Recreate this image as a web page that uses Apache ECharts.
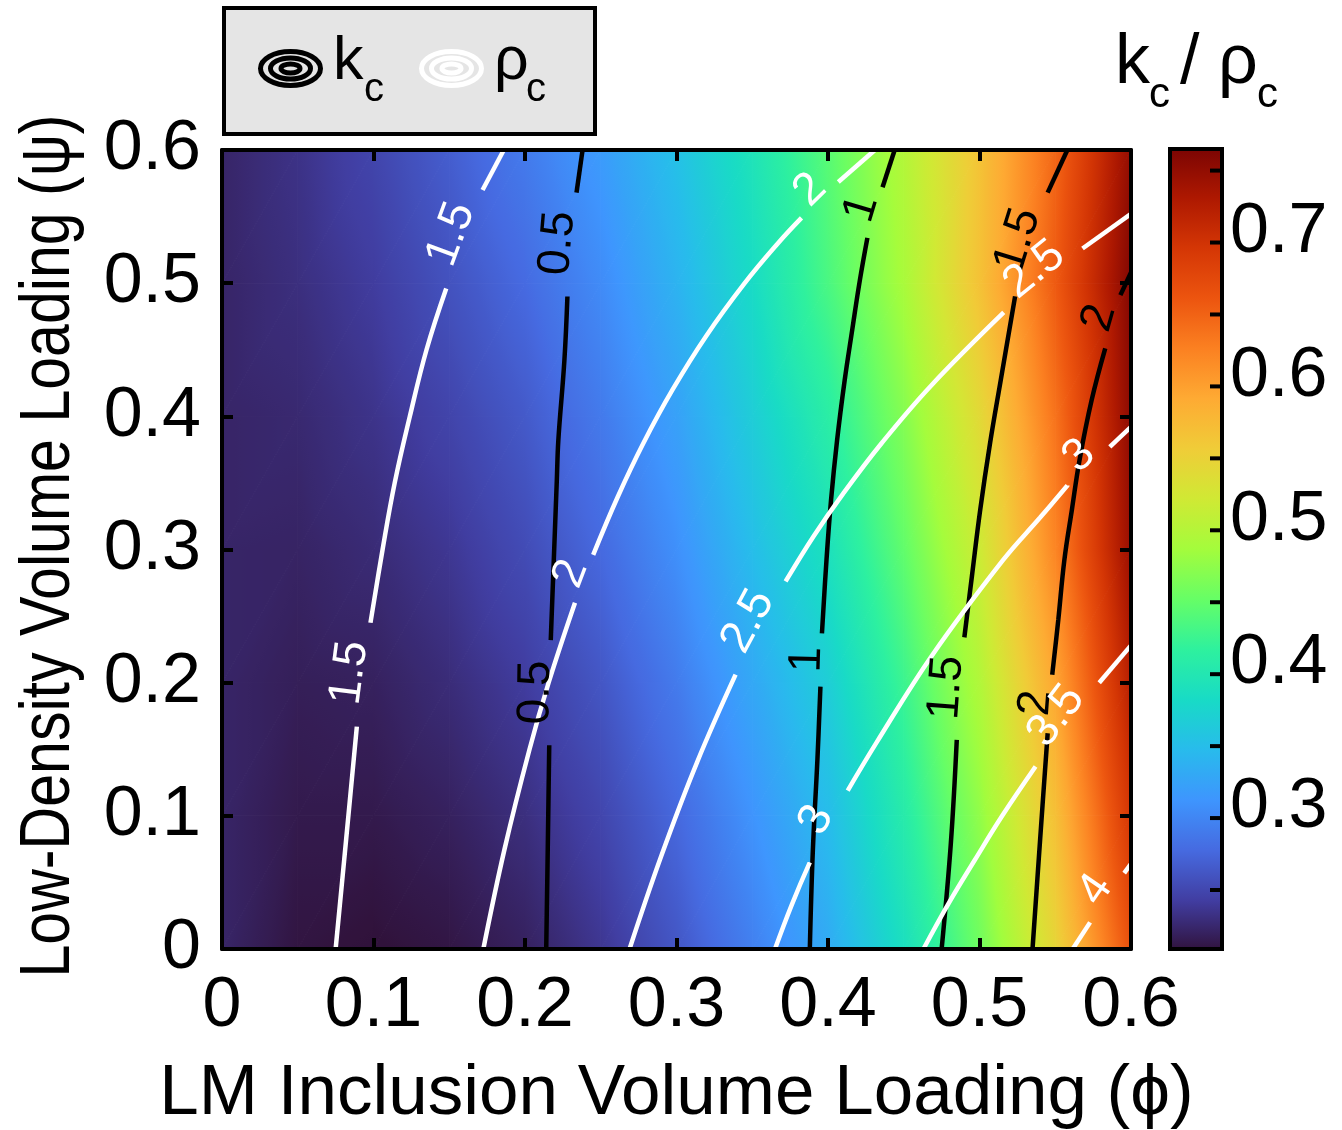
<!DOCTYPE html>
<html>
<head>
<meta charset="utf-8">
<script src="https://cdn.jsdelivr.net/npm/echarts@6/dist/echarts.min.js"></script>
<style>
  html, body { margin: 0; padding: 0; background: #fff; }
  #main { width: 1342px; height: 1130px; }
</style>
</head>
<body>
<div id="main"></div>
<script>
// grid nodes of the kc/rho_c field (phi across, psi up)
var phiNodes = [0, 0.05, 0.1, 0.15, 0.2, 0.25, 0.3, 0.35, 0.4, 0.45, 0.5, 0.55, 0.6];
var psiNodes = [0, 0.1, 0.2, 0.3, 0.4, 0.5, 0.6];

// kc / rho_c read row by row (one row per psi node)
var ratioPsi0 = [0.224, 0.211, 0.208, 0.212, 0.221, 0.238, 0.263, 0.296, 0.332, 0.388, 0.457, 0.546, 0.665];
var ratioPsi1 = [0.224, 0.215, 0.215, 0.221, 0.232, 0.250, 0.277, 0.312, 0.349, 0.407, 0.476, 0.569, 0.695];
var ratioPsi2 = [0.224, 0.219, 0.221, 0.230, 0.243, 0.263, 0.292, 0.330, 0.368, 0.426, 0.497, 0.594, 0.722];
var ratioPsi3 = [0.224, 0.223, 0.229, 0.239, 0.255, 0.278, 0.309, 0.350, 0.391, 0.449, 0.519, 0.621, 0.745];
var ratioPsi4 = [0.224, 0.227, 0.236, 0.249, 0.266, 0.291, 0.324, 0.367, 0.411, 0.469, 0.541, 0.636, 0.753];
var ratioPsi5 = [0.224, 0.232, 0.243, 0.260, 0.279, 0.305, 0.340, 0.383, 0.435, 0.491, 0.567, 0.656, 0.760];
var ratioPsi6 = [0.224, 0.235, 0.250, 0.269, 0.292, 0.319, 0.354, 0.395, 0.444, 0.499, 0.566, 0.646, 0.749];
var ratioRows = [ratioPsi0, ratioPsi1, ratioPsi2, ratioPsi3, ratioPsi4, ratioPsi5, ratioPsi6];

// colour bar
var colorMin = 0.209;
var colorMax = 0.765;
var colorbarLabels = [0.3, 0.4, 0.5, 0.6, 0.7];
var colorbarTicks = [0.25, 0.3, 0.35, 0.4, 0.45, 0.5, 0.55, 0.6, 0.65, 0.7, 0.75];

// kc contours (black), each split where the inline label sits
var kc05 = [
  [[0.214, 0], [0.215, 0.074], [0.216, 0.153]],
  [[0.217, 0.232], [0.219, 0.292], [0.221, 0.352], [0.222, 0.382], [0.226, 0.442], [0.228, 0.490]],
  [[0.234, 0.568], [0.238, 0.6]]
];
var kc10 = [
  [[0.388, 0], [0.390, 0.074], [0.393, 0.142], [0.395, 0.197]],
  [[0.396, 0.237], [0.399, 0.292], [0.402, 0.337], [0.406, 0.382], [0.411, 0.427], [0.416, 0.465], [0.421, 0.502], [0.426, 0.534]],
  [[0.436, 0.572], [0.444, 0.6]]
];
var kc15 = [
  [[0.475, 0], [0.481, 0.078], [0.485, 0.157]],
  [[0.490, 0.234], [0.495, 0.280], [0.5005, 0.330], [0.507, 0.380], [0.514, 0.427], [0.5235, 0.490]],
  [[0.545, 0.568], [0.558, 0.6]]
];
var kc20 = [
  [[0.535, 0], [0.540, 0.082], [0.545, 0.162]],
  [[0.548, 0.206], [0.552, 0.247], [0.556, 0.292], [0.561, 0.330], [0.566, 0.367], [0.574, 0.412], [0.583, 0.451]],
  [[0.593, 0.491], [0.6, 0.508]]
];

// rho_c contours (white)
var rho15 = [
  [[0.075, 0], [0.082, 0.083], [0.089, 0.167]],
  [[0.098, 0.245], [0.106, 0.300], [0.114, 0.350], [0.124, 0.400], [0.135, 0.450], [0.148, 0.496]],
  [[0.172, 0.570], [0.186, 0.6]]
];
var rho20 = [
  [[0.1725, 0], [0.1865, 0.075], [0.203, 0.150], [0.2156, 0.200], [0.233, 0.260]],
  [[0.245, 0.296], [0.2614, 0.340], [0.2782, 0.380], [0.2974, 0.420], [0.3194, 0.460], [0.345, 0.500], [0.367, 0.530], [0.3825, 0.549]],
  [[0.4068, 0.576], [0.431, 0.6]]
];
var rho25 = [
  [[0.269, 0], [0.290, 0.070], [0.3135, 0.140], [0.339, 0.206]],
  [[0.372, 0.276], [0.3905, 0.310], [0.410, 0.342], [0.4355, 0.380], [0.468, 0.423], [0.516, 0.478]],
  [[0.568, 0.526], [0.6, 0.552]]
];
var rho30 = [
  [[0.365, 0], [0.376, 0.033], [0.388, 0.065]],
  [[0.413, 0.119], [0.432, 0.155], [0.469, 0.221], [0.5155, 0.292], [0.540, 0.324], [0.558, 0.348]],
  [[0.586, 0.377], [0.6, 0.392]]
];
var rho35 = [
  [[0.463, 0], [0.480, 0.035], [0.497, 0.067], [0.515, 0.100], [0.537, 0.137]],
  [[0.579, 0.200], [0.6, 0.228]]
];
var rho40 = [
  [[0.5615, 0], [0.573, 0.020]],
  [[0.5955, 0.057], [0.6, 0.064]]
];

var FONT = '"Liberation Sans", Arial, sans-serif';

// turbo colour map: [t, r, g, b]
var turboStops = [
  [0.0000, 0.190, 0.072, 0.232],
  [0.0625, 0.253, 0.240, 0.630],
  [0.1250, 0.275, 0.415, 0.880],
  [0.1875, 0.245, 0.585, 0.995],
  [0.2500, 0.155, 0.735, 0.925],
  [0.3125, 0.095, 0.860, 0.775],
  [0.3750, 0.180, 0.945, 0.620],
  [0.4375, 0.400, 0.995, 0.400],
  [0.5000, 0.644, 0.990, 0.234],
  [0.5625, 0.815, 0.915, 0.205],
  [0.6250, 0.940, 0.800, 0.218],
  [0.6875, 0.995, 0.665, 0.200],
  [0.7500, 0.985, 0.500, 0.130],
  [0.8125, 0.925, 0.330, 0.058],
  [0.8750, 0.830, 0.210, 0.018],
  [0.9375, 0.680, 0.095, 0.005],
  [1.0000, 0.480, 0.016, 0.011]
];

function stopColor(s) {
  return 'rgb(' + Math.round(s[1] * 255) + ',' + Math.round(s[2] * 255) + ',' + Math.round(s[3] * 255) + ')';
}

function ratioColor(v) {
  var t = (v - colorMin) / (colorMax - colorMin);
  t = Math.max(0, Math.min(1, t));
  for (var k = 1; k < turboStops.length; k++) {
    if (t <= turboStops[k][0]) {
      var a = turboStops[k - 1], b = turboStops[k];
      var f = (t - a[0]) / (b[0] - a[0]);
      return stopColor([0, a[1] + (b[1] - a[1]) * f, a[2] + (b[2] - a[2]) * f, a[3] + (b[3] - a[3]) * f]);
    }
  }
  return stopColor(turboStops[turboStops.length - 1]);
}

// linear shading over one triangle of the field
function planeFill(pts, vals) {
  var ax = pts[1][0] - pts[0][0], ay = pts[1][1] - pts[0][1];
  var bx = pts[2][0] - pts[0][0], by = pts[2][1] - pts[0][1];
  var da = vals[1] - vals[0], db = vals[2] - vals[0];
  var det = ax * by - ay * bx;
  var gx = (da * by - ay * db) / det;
  var gy = (ax * db - da * bx) / det;
  var gl = Math.sqrt(gx * gx + gy * gy);
  if (!isFinite(gl) || gl < 1e-9) return ratioColor(vals[0]);
  var ux = gx / gl, uy = gy / gl;
  var tmin = Infinity, tmax = -Infinity;
  pts.forEach(function (p) {
    var t = (p[0] - pts[0][0]) * ux + (p[1] - pts[0][1]) * uy;
    if (t < tmin) tmin = t;
    if (t > tmax) tmax = t;
  });
  var vs = vals[0] + gl * tmin, ve = vals[0] + gl * tmax;
  var stops = [];
  for (var k = 0; k <= 12; k++) {
    stops.push({ offset: k / 12, color: ratioColor(vs + (ve - vs) * k / 12) });
  }
  return new echarts.graphic.LinearGradient(
    pts[0][0] + ux * tmin, pts[0][1] + uy * tmin,
    pts[0][0] + ux * tmax, pts[0][1] + uy * tmax,
    stops, true
  );
}

function triangle(pts, vals) {
  var fill = planeFill(pts, vals);
  return {
    type: 'polygon',
    shape: { points: pts },
    style: { fill: fill, stroke: fill, lineWidth: 1 }
  };
}

function renderCell(params, api) {
  var x0 = api.value(0), x1 = api.value(1), y0 = api.value(2), y1 = api.value(3);
  var p00 = api.coord([x0, y0]), p10 = api.coord([x1, y0]);
  var p01 = api.coord([x0, y1]), p11 = api.coord([x1, y1]);
  var v00 = api.value(4), v10 = api.value(5), v01 = api.value(6), v11 = api.value(7);
  return {
    type: 'group',
    children: [
      triangle([p00, p10, p11], [v00, v10, v11]),
      triangle([p00, p11, p01], [v00, v11, v01])
    ]
  };
}

// colour bar: gradient bar, frame, inward ticks and labels
function renderColorbar(params, api) {
  var lo = api.coord([api.value(0), api.value(2)]);
  var hi = api.coord([api.value(1), api.value(3)]);
  var stops = turboStops.map(function (s) {
    return { offset: s[0], color: stopColor(s) };
  });
  var children = [{
    type: 'rect',
    shape: { x: lo[0], y: hi[1], width: hi[0] - lo[0], height: lo[1] - hi[1] },
    style: {
      fill: new echarts.graphic.LinearGradient(0, 1, 0, 0, stops),
      stroke: '#000',
      lineWidth: 4
    }
  }];
  colorbarTicks.forEach(function (v) {
    var y = api.coord([1, v])[1];
    children.push({
      type: 'line',
      shape: { x1: hi[0] - 12, y1: y, x2: hi[0], y2: y },
      style: { stroke: '#000', lineWidth: 4 }
    });
  });
  colorbarLabels.forEach(function (v) {
    var y = api.coord([1, v])[1];
    children.push({
      type: 'text',
      x: hi[0] + 8,
      y: y - 10,
      style: { text: String(v), fontSize: 70, fontFamily: FONT, fill: '#000', align: 'left', verticalAlign: 'middle' }
    });
  });
  return { type: 'group', children: children };
}

// field cells
var heatCells = [];
for (var j = 0; j < psiNodes.length - 1; j++) {
  for (var i = 0; i < phiNodes.length - 1; i++) {
    heatCells.push([
      phiNodes[i], phiNodes[i + 1], psiNodes[j], psiNodes[j + 1],
      ratioRows[j][i], ratioRows[j][i + 1], ratioRows[j + 1][i], ratioRows[j + 1][i + 1]
    ]);
  }
}

var contours = [
  { level: '0.5', color: '#000', segs: kc05 },
  { level: '1', color: '#000', segs: kc10 },
  { level: '1.5', color: '#000', segs: kc15 },
  { level: '2', color: '#000', segs: kc20 },
  { level: '1.5', color: '#fff', segs: rho15 },
  { level: '2', color: '#fff', segs: rho20 },
  { level: '2.5', color: '#fff', segs: rho25 },
  { level: '3', color: '#fff', segs: rho30 },
  { level: '3.5', color: '#fff', segs: rho35 },
  { level: '4', color: '#fff', segs: rho40 }
];

var lineSeries = [];
var labelItems = [];
contours.forEach(function (c) {
  c.segs.forEach(function (seg, k) {
    lineSeries.push({
      type: 'line',
      xAxisIndex: 0,
      yAxisIndex: 0,
      data: seg,
      smooth: 0.4,
      showSymbol: false,
      silent: true,
      z: 3,
      lineStyle: { color: c.color, width: 4.5 }
    });
    if (k < c.segs.length - 1) {
      var a = seg[seg.length - 1], b = c.segs[k + 1][0];
      labelItems.push({ value: [a[0], a[1], b[0], b[1]], text: c.level, color: c.color });
    }
  });
});

var LABEL_SHIFT = 14;
function renderLabel(params, api) {
  var a = api.coord([api.value(0), api.value(1)]);
  var b = api.coord([api.value(2), api.value(3)]);
  var ang = Math.atan2(a[1] - b[1], b[0] - a[0]);
  var item = labelItems[params.dataIndex];
  return {
    type: 'text',
    x: (a[0] + b[0]) / 2 - LABEL_SHIFT * Math.sin(ang),
    y: (a[1] + b[1]) / 2 - LABEL_SHIFT * Math.cos(ang),
    rotation: ang,
    style: {
      text: item.text,
      fill: item.color,
      fontSize: 46,
      fontFamily: FONT,
      align: 'center',
      verticalAlign: 'middle'
    }
  };
}

var frameLine = { show: true, onZero: false, lineStyle: { color: '#000', width: 4 } };
var frameTick = { show: true, inside: true, length: 11, lineStyle: { color: '#000', width: 4 } };

var chartDom = document.getElementById('main');
var myChart = echarts.init(chartDom, null, { renderer: 'canvas' });

var option = {
  animation: false,
  backgroundColor: '#fff',
  textStyle: { fontFamily: FONT },
  grid: [
    { left: 222, top: 150, width: 909, height: 799, containLabel: false, outerBoundsMode: 'none' },
    { left: 1170, top: 149, width: 52, height: 800, containLabel: false, outerBoundsMode: 'none' }
  ],
  xAxis: [
    {
      gridIndex: 0, type: 'value', min: 0, max: 0.6, interval: 0.1, position: 'bottom',
      axisLine: frameLine, axisTick: frameTick,
      axisLabel: { color: '#000', fontSize: 70, fontFamily: FONT, margin: 23 },
      splitLine: { show: false },
      name: 'LM Inclusion Volume Loading (\u03d5)',
      nameLocation: 'middle',
      nameGap: 110,
      nameTextStyle: { color: '#000', fontSize: 71, fontFamily: FONT },
      z: 10
    },
    {
      gridIndex: 0, type: 'value', min: 0, max: 0.6, interval: 0.1, position: 'top',
      axisLine: frameLine, axisTick: frameTick, axisLabel: { show: false },
      splitLine: { show: false }, z: 10
    },
    { gridIndex: 1, type: 'value', min: 0, max: 1, show: false }
  ],
  yAxis: [
    {
      gridIndex: 0, type: 'value', min: 0, max: 0.6, interval: 0.1, position: 'left',
      axisLine: frameLine, axisTick: frameTick,
      axisLabel: { color: '#000', fontSize: 70, fontFamily: FONT, margin: 21 },
      splitLine: { show: false }, z: 10
    },
    {
      gridIndex: 0, type: 'value', min: 0, max: 0.6, interval: 0.1, position: 'right',
      axisLine: frameLine, axisTick: frameTick, axisLabel: { show: false },
      splitLine: { show: false }, z: 10
    },
    { gridIndex: 1, type: 'value', min: colorMin, max: colorMax, show: false }
  ],
  graphic: [
    // legend box
    { type: 'rect', shape: { x: 224, y: 8, width: 371, height: 126 }, style: { fill: '#e5e5e5', stroke: '#000', lineWidth: 4 } },
    { type: 'ellipse', shape: { cx: 290.5, cy: 68.5, rx: 30, ry: 17 }, style: { fill: null, stroke: '#000', lineWidth: 5 } },
    { type: 'ellipse', shape: { cx: 290.5, cy: 68.5, rx: 20, ry: 10.5 }, style: { fill: null, stroke: '#000', lineWidth: 5 } },
    { type: 'ellipse', shape: { cx: 290.5, cy: 68.5, rx: 9.5, ry: 4.5 }, style: { fill: null, stroke: '#000', lineWidth: 5 } },
    { type: 'text', x: 333, y: 62, style: { text: 'k', fontSize: 61, fontFamily: FONT, fill: '#000', align: 'left', verticalAlign: 'middle' } },
    { type: 'text', x: 364, y: 90, style: { text: 'c', fontSize: 40, fontFamily: FONT, fill: '#000', align: 'left', verticalAlign: 'middle' } },
    { type: 'ellipse', shape: { cx: 451.5, cy: 68.5, rx: 30, ry: 17 }, style: { fill: null, stroke: '#fff', lineWidth: 5 } },
    { type: 'ellipse', shape: { cx: 451.5, cy: 68.5, rx: 20, ry: 10.5 }, style: { fill: null, stroke: '#fff', lineWidth: 5 } },
    { type: 'ellipse', shape: { cx: 451.5, cy: 68.5, rx: 9.5, ry: 4.5 }, style: { fill: null, stroke: '#fff', lineWidth: 5 } },
    { type: 'text', x: 494, y: 62, style: { text: '\u03c1', fontSize: 61, fontFamily: FONT, fill: '#000', align: 'left', verticalAlign: 'middle' } },
    { type: 'text', x: 526, y: 90, style: { text: 'c', fontSize: 40, fontFamily: FONT, fill: '#000', align: 'left', verticalAlign: 'middle' } },
    // colour bar title
    { type: 'text', x: 1115, y: 64, style: { text: 'k', fontSize: 70, fontFamily: FONT, fill: '#000', align: 'left', verticalAlign: 'middle' } },
    { type: 'text', x: 1149, y: 95, style: { text: 'c', fontSize: 42, fontFamily: FONT, fill: '#000', align: 'left', verticalAlign: 'middle' } },
    { type: 'text', x: 1180, y: 64, style: { text: '/', fontSize: 70, fontFamily: FONT, fill: '#000', align: 'left', verticalAlign: 'middle' } },
    { type: 'text', x: 1218, y: 64, style: { text: '\u03c1', fontSize: 70, fontFamily: FONT, fill: '#000', align: 'left', verticalAlign: 'middle' } },
    { type: 'text', x: 1257, y: 95, style: { text: 'c', fontSize: 42, fontFamily: FONT, fill: '#000', align: 'left', verticalAlign: 'middle' } },
    // y axis title (condensed like the source)
    {
      type: 'text', x: 50, y: 546, rotation: Math.PI / 2, scaleX: 0.844, scaleY: 1,
      style: { text: 'Low-Density Volume Loading (\u03c8)', fontSize: 70, fontFamily: FONT, fill: '#000', align: 'center', verticalAlign: 'middle' }
    }
  ],
  series: [
    {
      type: 'custom',
      xAxisIndex: 0,
      yAxisIndex: 0,
      renderItem: renderCell,
      data: heatCells,
      encode: { x: [0, 1], y: [2, 3] },
      clip: true,
      silent: true,
      z: 1
    },
    {
      type: 'custom',
      xAxisIndex: 2,
      yAxisIndex: 2,
      renderItem: renderColorbar,
      data: [[0, 1, colorMin, colorMax]],
      encode: { x: [0, 1], y: [2, 3] },
      clip: false,
      silent: true,
      z: 1
    }
  ].concat(lineSeries).concat([
    {
      type: 'custom',
      xAxisIndex: 0,
      yAxisIndex: 0,
      renderItem: renderLabel,
      data: labelItems,
      encode: { x: [0, 2], y: [1, 3] },
      clip: false,
      silent: true,
      z: 5
    }
  ])
};

myChart.setOption(option);

window.addEventListener('resize', function () {
  myChart.resize();
});
</script>
</body>
</html>
